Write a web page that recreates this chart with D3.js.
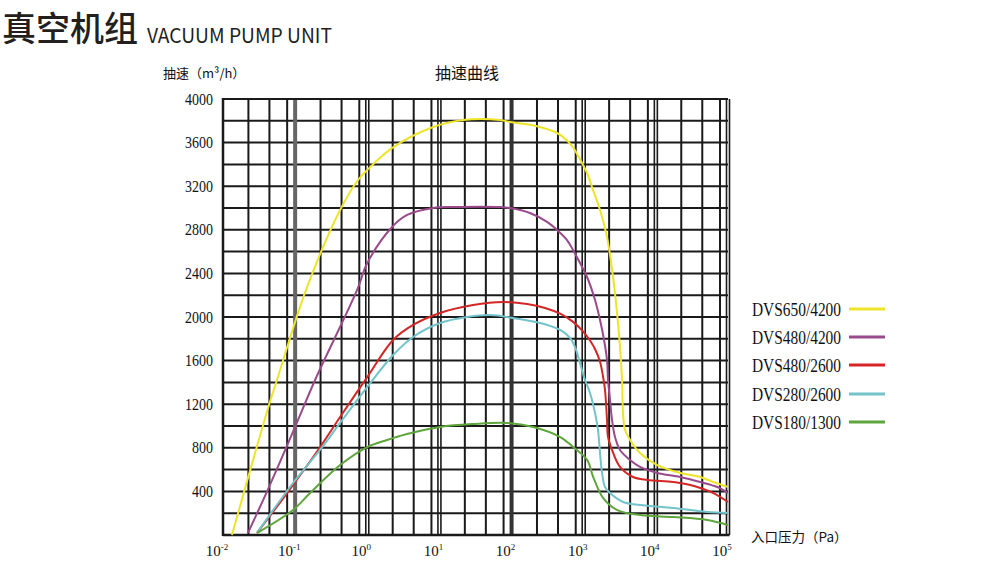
<!DOCTYPE html>
<html><head><meta charset="utf-8">
<script src="https://cdn.jsdelivr.net/npm/d3@7"></script>
<style>html,body{margin:0;padding:0;background:#fff;}svg{display:block;}</style>
</head><body>
<svg id="c" width="1000" height="563"></svg>
<script>
// ---- data ----
const seriesNames = ["DVS650/4200","DVS480/4200","DVS480/2600","DVS280/2600","DVS180/1300"];
const seriesColors = ["#eee42a","#9a4a8c","#d52626","#72c4ca","#5ea63c"];
// [pressure Pa, speed m3/h]
const dvs650_4200 = [[0.0133,0],[0.0434,1193],[0.056,1422],[0.1416,2248],[0.42,2982],[0.745,3257],[1.0,3349],[2.2,3550],[8.2,3743],[21.3,3807],[69.5,3807],[95.6,3789],[225,3750],[427,3688],[587,3620],[711,3556],[889,3446],[1112,3321],[1346,3165],[1683,2982],[2104,2734],[2547,2367],[2897,2037],[3187,1725],[3397,1422],[3508,1119],[3741,963],[4389,872],[6031,752],[10450,642],[21800,569],[41300,532],[62500,486],[100000,440]];
const dvs480_4200 = [[0.0222,20],[0.0434,440],[0.0998,991],[0.189,1422],[0.723,2248],[1.0,2495],[2.21,2826],[3.57,2936],[8.18,3000],[15.5,3009],[69.5,3009],[95.6,3000],[180,2954],[310,2872],[427,2798],[587,2706],[711,2615],[889,2495],[1112,2367],[1435,2156],[1683,1972],[1914,1789],[2104,1606],[2173,1422],[2317,1239],[2468,1055],[2716,899],[3187,780],[4389,688],[6031,624],[10450,569],[21800,532],[41300,486],[71100,440],[100000,385]];
const dvs480_2600 = [[0.0296,20],[0.0773,385],[0.208,780],[0.42,1083],[1.0,1450],[2.28,1789],[4.32,1927],[10.2,2037],[29.3,2110],[76.4,2138],[164,2119],[291,2083],[472,2030],[711,1955],[977,1868],[1222,1785],[1450,1700],[1683,1590],[1854,1453],[1974,1330],[2104,1055],[2173,899],[2468,780],[3187,624],[4819,532],[7600,505],[17400,486],[30000,459],[62500,385],[100000,303]];
const dvs280_2600 = [[0.0296,20],[0.0935,477],[0.221,780],[0.42,1028],[1.0,1358],[2.28,1651],[4.32,1817],[10.2,1945],[24.2,2000],[50.5,2018],[105,1991],[249,1945],[472,1881],[650,1807],[757,1725],[889,1578],[1042,1422],[1222,1303],[1435,1119],[1579,963],[1683,752],[1795,569],[1974,440],[2317,385],[3508,303],[6080,275],[17400,248],[51600,211],[100000,202]];
const dvs180_1300 = [[0.0296,18],[0.0935,229],[0.161,385],[0.42,642],[1.0,807],[1.88,872],[3.56,927],[10.2,991],[29.3,1018],[87,1028],[200,991],[472,899],[714,807],[1117,688],[1355,532],[1862,339],[2920,229],[6080,183],[17400,165],[51600,138],[100000,92]];
const seriesData = [dvs650_4200,dvs480_4200,dvs480_2600,dvs280_2600,dvs180_1300];
const yTicks = [400,800,1200,1600,2000,2400,2800,3200,3600,4000];
const yGrid = [200,400,600,800,1000,1200,1400,1600,1800,2000,2200,2400,2600,2800,3000,3200,3400,3600,3800];
const decades = [-2,-1,0,1,2,3,4,5];
const minorMult = [2.25,4.4,7.75];

// ---- layout ----
const svg = d3.select("#c");
const x = d3.scaleLog().domain([0.01,1e5]).range([223,728]);
const y = d3.scaleLinear().domain([0,4000]).range([535,99]);
const serif = "'Liberation Serif','DejaVu Serif',serif";
const cjk = "'Noto Sans CJK SC','Noto Sans',sans-serif";

// title
svg.append("text").attr("x",2).attr("y",41).attr("font-family",cjk).attr("font-size",34).attr("font-weight",500).attr("fill","#231f20").text("真空机组");
svg.append("text").attr("x",147).attr("y",43).attr("font-family",cjk).attr("font-size",20.5).attr("font-weight",400).attr("fill","#231f20").attr("textLength",185).attr("lengthAdjust","spacingAndGlyphs").text("VACUUM PUMP UNIT");

// chart title & axis title
svg.append("text").attr("x",467).attr("y",79).attr("text-anchor","middle").attr("font-family",cjk).attr("font-size",16).attr("fill","#111").text("抽速曲线");
svg.append("text").attr("x",163).attr("y",78).attr("font-family",cjk).attr("font-size",13).attr("fill","#111").text("抽速（m³/h）");
svg.append("text").attr("x",751).attr("y",542).attr("font-family",cjk).attr("font-size",13.5).attr("fill","#111").text("入口压力（Pa）");

// grid
const g = svg.append("g");
g.selectAll("line.h").data(yGrid).enter().append("line")
  .attr("x1",x(0.01)).attr("x2",x(1e5)).attr("y1",d=>y(d)).attr("y2",d=>y(d))
  .attr("stroke","#1a1a1a").attr("stroke-width",2);
const minors = [];
decades.slice(0,-1).forEach(d=>minorMult.forEach(m=>minors.push(m*Math.pow(10,d))));
g.selectAll("line.v").data(minors).enter().append("line")
  .attr("x1",d=>x(d)).attr("x2",d=>x(d)).attr("y1",y(4000)).attr("y2",y(0))
  .attr("stroke","#1a1a1a").attr("stroke-width",2);
decades.forEach(d=>{
  const xv = x(Math.pow(10,d));
  if (d===-2) return;
  if (d===-1) {
    g.append("line").attr("x1",xv).attr("x2",xv).attr("y1",y(4000)).attr("y2",y(0)).attr("stroke","#666").attr("stroke-width",4);
  } else if (d===2) {
    g.append("line").attr("x1",xv).attr("x2",xv).attr("y1",y(4000)).attr("y2",y(0)).attr("stroke","#333").attr("stroke-width",4);
  } else {
    [-1.5,1.5].forEach(o=>g.append("line").attr("x1",xv+o).attr("x2",xv+o).attr("y1",y(4000)).attr("y2",y(0)).attr("stroke","#1a1a1a").attr("stroke-width",1.6));
  }
});
// border
g.append("line").attr("x1",x(0.01)).attr("x2",x(1e5)).attr("y1",y(4000)).attr("y2",y(4000)).attr("stroke","#1a1a1a").attr("stroke-width",2);
g.append("line").attr("x1",x(0.01)).attr("x2",x(1e5)+1.5).attr("y1",y(0)).attr("y2",y(0)).attr("stroke","#1a1a1a").attr("stroke-width",2.5);
g.append("line").attr("x1",x(0.01)).attr("x2",x(0.01)).attr("y1",y(4000)-1).attr("y2",y(0)+1).attr("stroke","#1a1a1a").attr("stroke-width",2.5);

// y tick labels
svg.selectAll("text.yt").data(yTicks).enter().append("text")
  .attr("x",213).attr("y",d=>y(d)+5.5).attr("text-anchor","end")
  .attr("font-family",serif).attr("font-size",16).attr("textLength",d=>String(d).length*7).attr("lengthAdjust","spacingAndGlyphs")
  .attr("fill","#111").text(d=>d);

// x tick labels
decades.forEach(d=>{
  const t = svg.append("text").attr("x",x(Math.pow(10,d))-6).attr("y",556).attr("text-anchor","middle")
    .attr("font-family",serif).attr("font-size",15).attr("fill","#111");
  t.append("tspan").text("10");
  t.append("tspan").attr("dy",-6).attr("font-size",9).text(d<0?("-"+(-d)):String(d));
});

// curves
const line = d3.line().x(d=>x(d[0])).y(d=>y(d[1])).curve(d3.curveCatmullRom.alpha(0.5));
svg.selectAll("path.s").data(seriesData).enter().append("path")
  .attr("d",line).attr("fill","none").attr("stroke",(d,i)=>seriesColors[i]).attr("stroke-width",2);

// legend
const legY = [309,337,365,394,422];
seriesNames.forEach((n,i)=>{
  svg.append("text").attr("x",752).attr("y",legY[i]+6.5).attr("font-family",serif).attr("font-size",18)
    .attr("textLength",89).attr("lengthAdjust","spacingAndGlyphs").attr("fill","#111").text(n);
  svg.append("line").attr("x1",849).attr("x2",885).attr("y1",legY[i]).attr("y2",legY[i]).attr("stroke",seriesColors[i]).attr("stroke-width",3);
});
</script>
</body></html>
